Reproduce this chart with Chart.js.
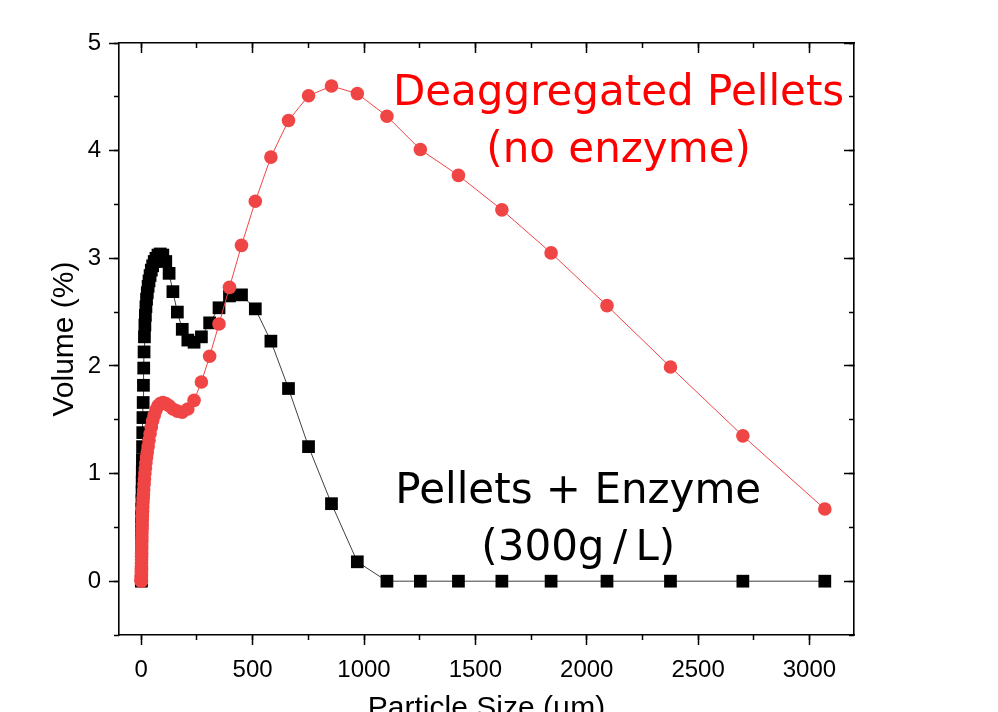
<!DOCTYPE html>
<html>
<head>
<meta charset="utf-8">
<title>Particle size distribution</title>
<script src="https://cdn.jsdelivr.net/npm/chart.js"></script>
<style>
  html, body { margin: 0; padding: 0; background: #fff; }
  canvas { display: block; }
</style>
</head>
<body>
<canvas id="myChart" width="998" height="712"></canvas>
<script>
// particle size bins (um), same bins for both samples
const sizes = [
  0.21, 0.24, 0.27, 0.31, 0.35, 0.40, 0.45, 0.51, 0.58, 0.66,
  0.75, 0.85, 0.97, 1.10, 1.25, 1.42, 1.62, 1.84, 2.09, 2.37,
  2.70, 3.07, 3.48, 3.96, 4.50, 5.11, 5.81, 6.60, 7.50, 8.52,
  9.69, 11.0, 12.5, 14.2, 16.2, 18.4, 20.9, 23.7, 27.0, 30.7,
  34.8, 39.6, 45.0, 51.1, 58.1, 66.0, 75.0, 85.2, 96.8, 110,
  125, 142, 162, 184, 209, 237, 270, 307, 349, 396,
  450, 512, 582, 661, 751, 854, 970, 1103, 1253, 1424,
  1619, 1840, 2091, 2376, 2701, 3069
]

// Pellets + Enzyme (300g/L), volume %
const enzymeVol = [
  0.00, 0.01, 0.02, 0.03, 0.04, 0.05, 0.07, 0.09, 0.11, 0.13,
  0.16, 0.19, 0.23, 0.27, 0.31, 0.36, 0.41, 0.47, 0.53, 0.60,
  0.67, 0.75, 0.83, 0.92, 1.02, 1.13, 1.25, 1.38, 1.52, 1.66,
  1.82, 1.98, 2.13, 2.27, 2.38, 2.47, 2.55, 2.62, 2.68, 2.74,
  2.79, 2.84, 2.89, 2.93, 2.97, 3.00, 3.03, 3.04, 3.03, 2.97,
  2.86, 2.69, 2.50, 2.34, 2.24, 2.22, 2.27, 2.40, 2.54, 2.65,
  2.66, 2.53, 2.23, 1.79, 1.25, 0.72, 0.18, 0, 0, 0,
  0, 0, 0, 0, 0, 0
]

// Deaggregated Pellets (no enzyme), volume %
const deaggVol = [
  0.00, 0.00, 0.01, 0.01, 0.02, 0.03, 0.04, 0.05, 0.06, 0.08,
  0.10, 0.12, 0.14, 0.17, 0.20, 0.23, 0.26, 0.30, 0.33, 0.37,
  0.41, 0.45, 0.49, 0.53, 0.57, 0.61, 0.65, 0.69, 0.73, 0.77,
  0.81, 0.85, 0.90, 0.95, 1.00, 1.05, 1.10, 1.15, 1.20, 1.25,
  1.31, 1.37, 1.43, 1.49, 1.54, 1.59, 1.63, 1.65, 1.66, 1.65,
  1.63, 1.60, 1.58, 1.57, 1.60, 1.68, 1.85, 2.09, 2.39, 2.73,
  3.12, 3.53, 3.94, 4.28, 4.51, 4.60, 4.53, 4.32, 4.01, 3.77,
  3.45, 3.05, 2.56, 1.99, 1.35, 0.67
]

const xTicks = [0, 500, 1000, 1500, 2000, 2500, 3000]
const xMinorTicks = [0, 250, 500, 750, 1000, 1250, 1500, 1750, 2000, 2250, 2500, 2750, 3000]
const yTicks = [0, 1, 2, 3, 4, 5]
const yMinorTicks = [-0.5, 0, 0.5, 1, 1.5, 2, 2.5, 3, 3.5, 4, 4.5, 5]

const deaggNote = ['Deaggregated Pellets', '(no enzyme)']
const enzymeNote = ['Pellets + Enzyme', '(300g\u2009/\u2009L)']

const xRange = [-100, 3200]
const yRange = [-0.5, 5]

const toPoints = vals => sizes.map((s, i) => ({x: s, y: vals[i]}))

// one side of the frame: tick marks only, labels optional
function edgeAxis(position, range, values, tickLength, size, weight) {
    const horizontal = position === 'top' || position === 'bottom'
    return {
        type: 'linear',
        axis: horizontal ? 'x' : 'y',
        position: position,
        min: range[0],
        max: range[1],
        weight: weight,
        afterBuildTicks: s => { s.ticks = values.map(v => ({value: v})) },
        afterFit: s => { if (horizontal) s.height = size; else s.width = size },
        grid: {drawOnChartArea: false, drawTicks: true, tickLength: tickLength, tickColor: '#000', tickWidth: 1.5},
        border: {display: weight > 0, color: '#000', width: 1.6},
        ticks: {display: false}
    }
}

// text notes placed in data units
const notesPlugin = {
    id: 'notes',
    afterDatasetsDraw(chart) {
        const {ctx, scales: {x, y}} = chart
        const notes = [
            {lines: deaggNote, at: [2143, 4.42], color: '#ff0000'},
            {lines: enzymeNote, at: [1962, 0.73], color: '#000000'}
        ]
        ctx.save()
        ctx.font = '42px "DejaVu Sans", sans-serif'
        ctx.textAlign = 'center'
        ctx.textBaseline = 'alphabetic'
        for (const note of notes) {
            ctx.fillStyle = note.color
            const px = x.getPixelForValue(note.at[0])
            const py = y.getPixelForValue(note.at[1])
            note.lines.forEach((line, i) => ctx.fillText(line, px, py + i * 57))
        }
        ctx.restore()
    }
}

Chart.defaults.font.family = '"Liberation Sans", Arial, sans-serif'
Chart.defaults.color = '#000'

const myChart = document.querySelector('#myChart').getContext('2d')

const plainNumber = v => String(v)

const xAxis = edgeAxis('bottom', xRange, xTicks, 10, 77, 1)
xAxis.ticks = {display: true, autoSkip: false, maxRotation: 0, padding: 11, color: '#000', font: {size: 24}, callback: plainNumber}
xAxis.title = {display: true, text: 'Particle Size (\u00B5m)', color: '#000', padding: 0, font: {size: 30, lineHeight: 0.2}}

const yAxis = edgeAxis('left', yRange, yTicks, 10, 119, 1)
yAxis.ticks = {display: true, autoSkip: false, padding: 8, color: '#000', font: {size: 24}, callback: plainNumber}
yAxis.title = {display: true, text: 'Volume (%)', color: '#000', padding: {top: 47, bottom: 0}, font: {size: 30}}

const sizeChart = new Chart(myChart, {
    type: 'line',
    data: {
        datasets: [{
            label: 'Deaggregated Pellets (no enzyme)',
            data: toPoints(deaggVol),
            borderColor: '#f04545',
            borderWidth: 1,
            pointStyle: 'circle',
            pointRadius: 6.8,
            pointBorderWidth: 0,
            pointBackgroundColor: '#f04545',
            tension: 0
        }, {
            label: 'Pellets + Enzyme (300g/L)',
            data: toPoints(enzymeVol),
            borderColor: '#404040',
            borderWidth: 1,
            pointStyle: 'rect',
            pointRadius: 9,
            pointBorderWidth: 0,
            pointBackgroundColor: '#000000',
            tension: 0
        }]
    },
    options: {
        responsive: false,
        animation: false,
        devicePixelRatio: 1,
        layout: {padding: {left: 0, top: 43, right: 144, bottom: 0}},
        plugins: {legend: {display: false}, tooltip: {enabled: false}},
        scales: {
            x: xAxis,
            y: yAxis,
            xMinor: edgeAxis('bottom', xRange, xMinorTicks, 5, 0, 0),
            yMinor: edgeAxis('left', yRange, yMinorTicks, 5, 0, 0),
            xTop: edgeAxis('top', xRange, xTicks, -10, 0, 1),
            xTopMinor: edgeAxis('top', xRange, xMinorTicks, -5, 0, 0),
            yRight: edgeAxis('right', yRange, yTicks, -10, 0, 1),
            yRightMinor: edgeAxis('right', yRange, yMinorTicks, -5, 0, 0)
        }
    },
    plugins: [notesPlugin]
})
</script>
</body>
</html>
